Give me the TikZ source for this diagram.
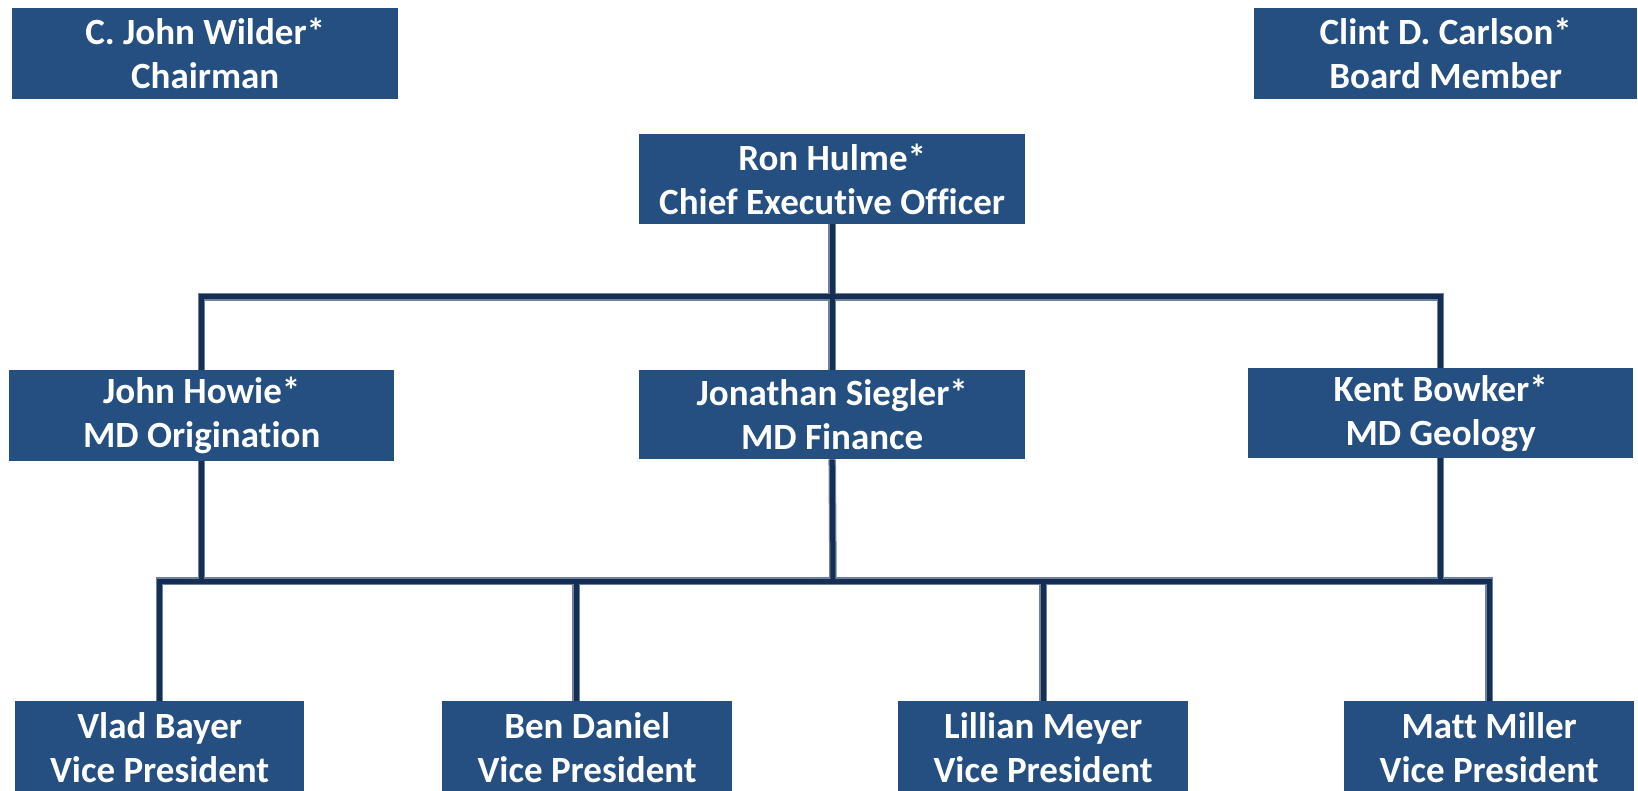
\documentclass[tikz,border=0pt]{standalone}
\usepackage{fontspec}
\setmainfont[Ligatures=NoCommon]{Carlito}
\usetikzlibrary{calc}
\definecolor{boxblue}{RGB}{37,79,128}
\definecolor{linedark}{RGB}{22,46,84}
\definecolor{lineedge}{RGB}{110,130,160}
\tikzset{
  orgbox/.style={fill=boxblue, text=white, inner sep=0pt, align=center,
    font=\fontsize{37}{44}\selectfont\bfseries, anchor=north west},
  linkouter/.style={draw=lineedge, line width=7.5pt},
  linkinner/.style={draw=linedark, line width=5pt},
}
\begin{document}
\begin{tikzpicture}[x=1pt,y=-1pt]
\useasboundingbox (0,0) rectangle (1638,791);
\clip (0,0) rectangle (1638,791);
% boxes
\node[orgbox, minimum width=386pt, minimum height=91pt] (chair) at (12,8) {C. John Wilder*\\Chairman};
\node[orgbox, minimum width=383pt, minimum height=91pt] (board) at (1254,8) {Clint D. Carlson*\\Board Member};
\node[orgbox, minimum width=386pt, minimum height=90pt] (ceo) at (639,134) {Ron Hulme*\\Chief Executive Officer};
\node[orgbox, minimum width=385pt, minimum height=91pt] (howie) at (9,370) {John Howie*\\MD Origination};
\node[orgbox, minimum width=386pt, minimum height=89pt] (siegler) at (639,370) {Jonathan Siegler*\\MD Finance};
\node[orgbox, minimum width=385pt, minimum height=90pt] (bowker) at (1248,368) {Kent Bowker*\\MD Geology};
\node[orgbox, minimum width=289pt, minimum height=93pt] (bayer) at (15,701) {Vlad Bayer\\Vice President};
\node[orgbox, minimum width=290pt, minimum height=93pt] (daniel) at (442,701) {Ben Daniel\\Vice President};
\node[orgbox, minimum width=290pt, minimum height=93pt] (meyer) at (898,701) {Lillian Meyer\\Vice President};
\node[orgbox, minimum width=290pt, minimum height=93pt] (miller) at (1344,701) {Matt Miller\\Vice President};
% bus coordinates
\coordinate (busA) at (833,297);
\coordinate (busB) at (833,581);
\coordinate (danieltop) at ($(daniel.north)+(-11,0)$);
% connectors
\foreach \st in {linkouter,linkinner}{
  \draw[\st] (ceo.south) -- (siegler.north);
  \draw[\st] (busA) -| (howie.north);
  \draw[\st] (busA) -| (bowker.north);
  \draw[\st] (howie.south) |- (busB);
  \draw[\st] (siegler.south) -- (busB);
  \draw[\st] (bowker.south) |- (busB);
  \draw[\st] (busB) -| (bayer.north);
  \draw[\st] (busB) -| (danieltop);
  \draw[\st] (busB) -| (meyer.north);
  \draw[\st] (busB) -| (miller.north);
}
\end{tikzpicture}
\end{document}
